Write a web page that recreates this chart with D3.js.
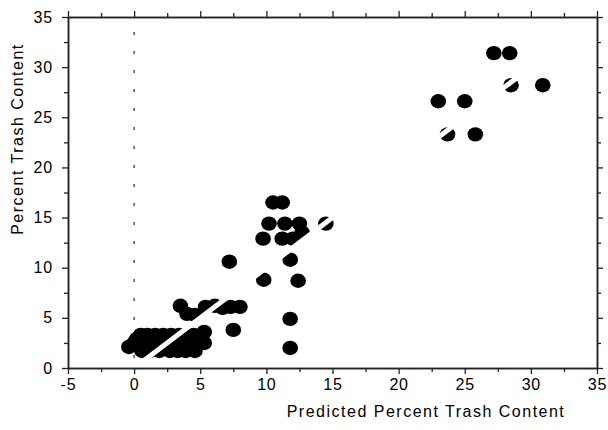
<!DOCTYPE html>
<html>
<head>
<meta charset="utf-8">
<script src="https://cdn.jsdelivr.net/npm/d3@7"></script>
<style>
  body { margin: 0; background: #fff; }
  text { font-family: "Liberation Sans", Arial, sans-serif; fill: #000; }
</style>
</head>
<body>
<div id="chart"></div>
<script>

var predicted = [
  0.5, 1.0, 1.6, 2.2, 2.8, 3.4, 4.0, 4.5,
  0.2, 1.3, 2.5, 3.7, 4.8,
  0.0, 0.9, 1.9, 3.0, 4.2, 5.3,
  -0.4, 0.4, 1.5, 2.6, 3.5, 4.6,
  0.6, 1.2, 1.9, 2.7, 3.3, 3.9, 4.6,
  5.3,
  3.5, 4.0, 4.6, 5.4, 6.1, 6.7, 7.3, 8.0,
  7.5, 7.2, 9.8, 11.8, 12.4, 11.8, 11.8,
  10.5, 11.2, 10.2, 11.4, 12.5, 9.75, 11.2, 12.0, 12.7, 14.5,
  27.2, 28.4, 28.5, 30.9, 23.0, 25.0, 23.7, 25.8
];
var measured = [
  3.3, 3.3, 3.3, 3.3, 3.3, 3.3, 3.3, 3.3,
  2.9, 2.9, 2.9, 2.9, 2.9,
  2.5, 2.5, 2.5, 2.5, 2.5, 2.5,
  2.1, 2.1, 2.1, 2.1, 2.1, 2.1,
  1.7, 1.7, 1.7, 1.7, 1.7, 1.7, 1.7,
  3.6,
  6.2, 5.4, 5.3, 6.1, 6.2, 6.0, 6.1, 6.1,
  3.8, 10.6, 8.8, 10.8, 8.7, 4.9, 2.0,
  16.5, 16.5, 14.4, 14.4, 14.4, 12.9, 12.9, 12.9, 13.5, 14.4,
  31.4, 31.4, 28.2, 28.2, 26.6, 26.6, 23.3, 23.3
];

var xTicks = [-5, 0, 5, 10, 15, 20, 25, 30, 35];
var yTicks = [0, 5, 10, 15, 20, 25, 30, 35];
var xMinor = [-2.5, 2.5, 7.5, 12.5, 17.5, 22.5, 27.5, 32.5];
var yMinor = [2.5, 7.5, 12.5, 17.5, 22.5, 27.5, 32.5];
var fitLine = [[-0.5, -0.5], [31, 31]]; // 1:1 line

var data = predicted.map(function(d, i) { return {x: d, y: measured[i]}; });

var margin = {top: 17, right: 11, bottom: 62, left: 68},
    width = 608 - margin.left - margin.right,
    height = 430 - margin.top - margin.bottom;

var svg = d3.select("#chart")
  .append("svg")
    .attr("width", 608)
    .attr("height", 430)
  .append("g")
    .attr("transform", "translate(" + margin.left + "," + margin.top + ")");

var x = d3.scaleLinear().domain([-5, 35]).range([0, width]);
var y = d3.scaleLinear().domain([0, 35]).range([height, 0]);

svg.append("clipPath").attr("id", "clip")
  .append("rect").attr("width", width).attr("height", height);

// dotted line at x = 0
svg.append("line")
  .attr("x1", x(0)).attr("x2", x(0))
  .attr("y1", height).attr("y2", 0)
  .attr("stroke", "#555")
  .attr("stroke-width", 1.5)
  .attr("stroke-dasharray", "3,16")
  .attr("stroke-dashoffset", -10);

// points
svg.append("g")
  .selectAll("ellipse")
  .data(data)
  .enter()
  .append("ellipse")
    .attr("cx", function(d) { return x(d.x); })
    .attr("cy", function(d) { return y(d.y); })
    .attr("rx", 7.8)
    .attr("ry", 7.2)
    .style("fill", "#000");

// white fit line drawn on top
svg.append("path")
  .datum(fitLine)
  .attr("clip-path", "url(#clip)")
  .attr("fill", "none")
  .attr("stroke", "#fff")
  .attr("stroke-width", 5)
  .attr("d", d3.line().x(function(d) { return x(d[0]); }).y(function(d) { return y(d[1]); }));

// axes
function styleAxis(g) {
  g.select(".domain").attr("stroke", "#222").attr("stroke-width", 1.5);
  g.selectAll(".tick line").attr("stroke", "#222").attr("stroke-width", 1.3);
  g.selectAll("text").style("font-size", "16px").style("letter-spacing", "0.8px");
}
var plain = function(d) { return String(d); };

svg.append("g")
  .attr("transform", "translate(0," + height + ")")
  .call(d3.axisBottom(x).tickValues(xTicks).tickSize(6).tickSizeOuter(0).tickPadding(5).tickFormat(plain))
  .call(styleAxis);
svg.append("g")
  .attr("transform", "translate(0," + height + ")")
  .call(d3.axisBottom(x).tickValues(xMinor).tickSize(4).tickSizeOuter(0).tickFormat(""))
  .call(styleAxis);

svg.append("g")
  .call(d3.axisTop(x).tickValues(xTicks).tickSize(6).tickSizeOuter(0).tickFormat(""))
  .call(styleAxis);
svg.append("g")
  .call(d3.axisTop(x).tickValues(xMinor).tickSize(4).tickSizeOuter(0).tickFormat(""))
  .call(styleAxis);

svg.append("g")
  .call(d3.axisLeft(y).tickValues(yTicks).tickSize(6).tickSizeOuter(0).tickPadding(9).tickFormat(plain))
  .call(styleAxis);
svg.append("g")
  .call(d3.axisLeft(y).tickValues(yMinor).tickSize(4).tickSizeOuter(0).tickFormat(""))
  .call(styleAxis);

svg.append("g")
  .attr("transform", "translate(" + width + ",0)")
  .call(d3.axisRight(y).tickValues(yTicks).tickSize(6).tickSizeOuter(0).tickFormat(""))
  .call(styleAxis);
svg.append("g")
  .attr("transform", "translate(" + width + ",0)")
  .call(d3.axisRight(y).tickValues(yMinor).tickSize(4).tickSizeOuter(0).tickFormat(""))
  .call(styleAxis);

// axis titles
svg.append("text")
  .attr("x", 358)
  .attr("y", height + 49)
  .attr("text-anchor", "middle")
  .style("font-size", "16px")
  .style("letter-spacing", "1.5px")
  .text("Predicted Percent Trash Content");

svg.append("text")
  .attr("transform", "rotate(-90)")
  .attr("x", -122)
  .attr("y", -45)
  .attr("text-anchor", "middle")
  .style("font-size", "16px")
  .style("letter-spacing", "1.5px")
  .text("Percent Trash Content");

</script>
</body>
</html>
